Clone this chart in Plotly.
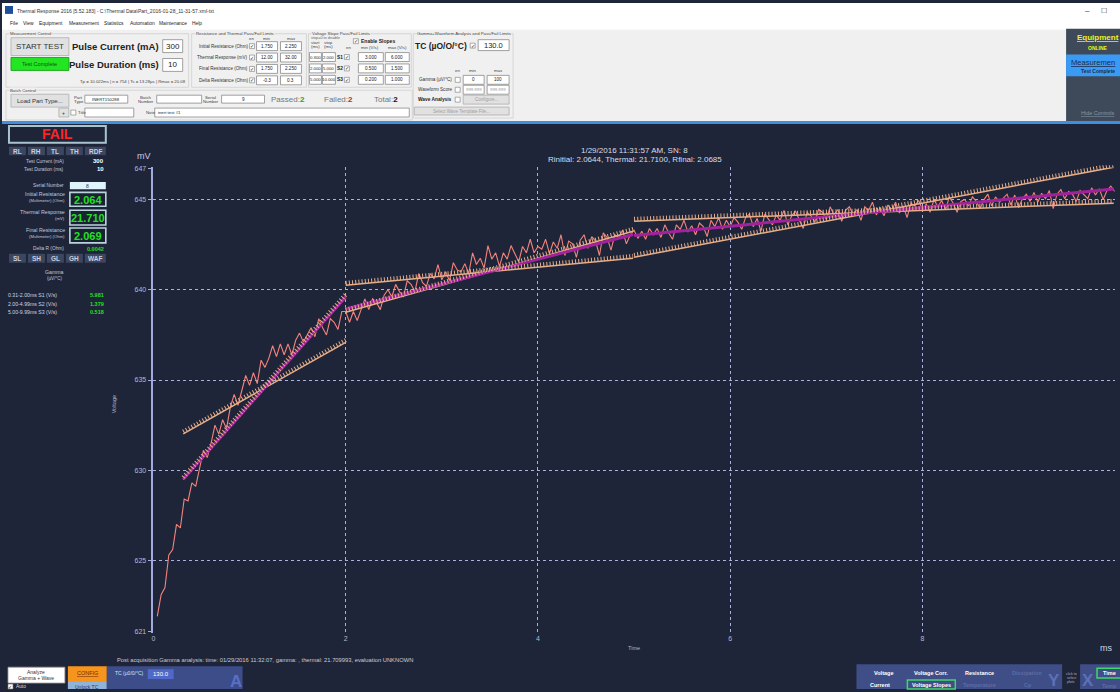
import plotly.graph_objects as go

# ---------------- DATA ----------------
# Voltage trace (mV), sampled every SAMPLE_STEP_MS starting at SAMPLE_START_MS
voltage_mv = [
    621.9, 623.1, 623.5, 625.3, 625.6, 627.0, 626.8, 628.4, 628.3, 629.3,
    629.1, 630.2, 631.1, 630.7, 631.5, 632.5, 632.0, 632.8, 632.3, 633.5,
    634.2, 633.6, 634.5, 635.25, 634.7, 635.4, 634.8, 636.1, 635.7, 636.2,
    636.9, 636.3, 637.0, 636.4, 637.0, 636.4, 637.2, 637.6, 637.1, 637.5,
    637.9, 637.4, 638.4, 637.9, 637.5, 638.4, 638.2, 637.8, 638.8, 638.8,
    638.2, 638.8, 638.3, 638.9, 639.5, 638.9, 639.5, 639.3, 638.9, 639.7,
    640.0, 639.6, 640.3, 639.9, 639.6, 640.5, 640.3, 639.9, 640.9, 640.4,
    640.2, 640.9, 640.6, 641.4, 640.55, 641.0, 640.5, 641.5, 641.1, 641.0,
    641.45, 640.9, 642.05, 641.4, 641.75, 641.2, 642.45, 641.7, 642.05, 641.3,
    642.05, 641.7, 642.45, 642.0, 641.55, 642.4, 642.05, 642.8, 642.05, 642.4,
    642.25, 642.8, 642.0, 642.65, 642.3, 643.05, 641.9, 642.7, 642.55, 641.8,
    642.75, 643.05, 642.3, 642.95, 642.7, 641.9, 643.15, 642.9, 642.2, 643.05,
    642.9, 643.3, 642.55, 643.05, 643.3, 642.85, 643.25, 642.8, 643.4, 643.05,
    643.4, 642.9, 643.6, 643.15, 642.8, 643.6, 643.35, 643.85, 643.2, 643.55,
    643.05, 643.7, 643.5, 642.95, 643.85, 643.5, 644.0, 643.35, 643.85, 643.5,
    644.0, 643.75, 643.35, 644.0, 644.2, 643.5, 643.95, 643.25, 644.2, 643.9,
    643.6, 644.15, 643.85, 644.4, 643.6, 644.1, 644.35, 643.85, 643.4, 644.3,
    644.1, 643.75, 644.45, 644.3, 643.9, 644.6, 644.15, 644.45, 643.8, 644.4,
    644.6, 644.15, 644.45, 643.85, 644.6, 644.4, 644.85, 644.15, 644.55, 644.1,
    644.7, 644.4, 644.85, 644.25, 644.65, 644.0, 644.8, 644.65, 644.95, 644.45,
    644.75, 644.3, 645.0, 644.6, 644.95, 644.45, 645.15, 644.8, 644.3, 644.9,
    645.0, 644.65, 645.15, 644.9, 644.5, 645.0, 645.3, 644.65, 645.15, 644.85,
    645.1, 645.3, 644.7, 645.25, 644.55, 645.05, 645.3, 644.9, 645.4, 644.85,
    645.35, 645.05, 645.5, 644.5, 645.3, 645.55, 645.05, 645.45, 645.3, 644.9,
    645.5, 645.3, 645.05, 645.65, 645.25, 645.6, 645.0, 645.5, 645.75, 645.45,
]
SAMPLE_START_MS = 0.04
SAMPLE_STEP_MS = 0.04
time_ms = [round(SAMPLE_START_MS + i * SAMPLE_STEP_MS, 4) for i in range(len(voltage_mv))]

# Slope segments (fit lines and pass/fail limit lines)
seg_start_ms = [0.31, 2.00, 5.00]
seg_stop_ms = [2.00, 4.99, 9.99]
seg_slope = [5.981, 1.379, 0.518]      # V/s == mV/ms
seg_mid_mv = [634.55, 641.0, 644.3]    # fit value at segment centre
slope_min = [3.0, 0.5, 0.2]
slope_max = [6.0, 1.5, 1.0]

# Axes
y_tick_vals = [621.04, 625, 630, 635, 640, 645, 646.74]
y_tick_text = ["621", "625", "630", "635", "640", "645", "647"]
y_grid_vals = [625, 630, 635, 640, 645]
x_tick_vals = [0, 2, 4, 6, 8]

# ---------------- FIGURE ----------------
W, H = 1120, 692
BG = "#1f2539"
GRID = "#a9b0e3"
FONT = "Liberation Sans"
HATCH = "#e6ae88"

X_DOM = [151.7 / W, 1114.7 / W]
Y_DOM = [1 - 635.1 / H, 1 - 165.9 / H]
HATCH_SHIFT = 2.2 / H
Y_RANGE = [621.0, 646.78]

fig = go.Figure()
fig.add_trace(go.Scatter(x=time_ms, y=voltage_mv, mode="lines",
                         line=dict(color="#f4837c", width=1.1), hoverinfo="skip"))

for i in range(len(seg_start_ms)):
    xs = [seg_start_ms[i], seg_stop_ms[i]]
    tmid = (xs[0] + xs[1]) / 2
    for s in (slope_min[i], slope_max[i]):
        ys = [seg_mid_mv[i] + s * (t - tmid) for t in xs]
        fig.add_trace(go.Scatter(x=xs, y=ys, mode="lines",
                                 line=dict(color=HATCH, width=1.5)))
        fig.add_trace(go.Scatter(x=xs, y=ys, mode="lines", xaxis="x2", yaxis="y2",
                                 line=dict(color=HATCH, width=4.4, dash="1px,2.2px")))
for i in range(len(seg_start_ms)):
    xs = [seg_start_ms[i], seg_stop_ms[i]]
    tmid = (xs[0] + xs[1]) / 2
    ys = [seg_mid_mv[i] + seg_slope[i] * (t - tmid) for t in xs]
    fig.add_trace(go.Scatter(x=xs, y=ys, mode="lines",
                             line=dict(color="#a2229e", width=3)))

shapes = []
annotations = []


def px(x):
    return x / W


def py(y):
    return 1 - y / H


def rect(x0, y0, x1, y1, fill=None, line=None, lw=1.0):
    shapes.append(dict(type="rect", xref="paper", yref="paper",
                       x0=px(x0), x1=px(x1), y0=py(y1), y1=py(y0),
                       fillcolor=fill if fill else "rgba(0,0,0,0)",
                       line=dict(color=line if line else "rgba(0,0,0,0)",
                                 width=lw if line else 0)))


def text(x, y, s, size=6, color="#222", anchor="left", bold=False,
         family=FONT, angle=0, bg=None):
    a = dict(xref="paper", yref="paper", x=px(x), y=py(y),
             text=("<b>" + s + "</b>") if bold else s, showarrow=False,
             xanchor=anchor, yanchor="middle", borderpad=0,
             font=dict(size=size, color=color, family=family), textangle=angle)
    if bg:
        a["bgcolor"] = bg
    annotations.append(a)


def check(x, y, checked=True):
    rect(x, y - 2.5, x + 5, y + 2.5, fill="#ffffff", line="#777777", lw=0.6)
    if checked:
        text(x + 2.5, y, "✓", size=5, color="#222", anchor="center")


def inbox(x0, y0, x1, y1, s="", size=5, color="#222", anchor="center"):
    rect(x0, y0, x1, y1, fill="#ffffff", line="#8a8a8a", lw=0.8)
    if s:
        if anchor == "center":
            text((x0 + x1) / 2, (y0 + y1) / 2, s, size=size, color=color, anchor="center")
        else:
            text(x0 + 2, (y0 + y1) / 2, s, size=size, color=color, anchor="left")


def button(x0, y0, x1, y1, s, size=6, color="#333"):
    rect(x0, y0, x1, y1, fill="#e1e1e1", line="#adadad", lw=0.8)
    text((x0 + x1) / 2, (y0 + y1) / 2, s, size=size, color=color, anchor="center")


def group(x0, y0, x1, y1, caption):
    rect(x0, y0, x1, y1, line="#cfcfcf", lw=0.8)
    text(x0 + 3, y0, caption, size=4.3, color="#444", bg="#f0f0f0")


# ---------- top window UI ----------
rect(0, 0, 1120, 119, fill="#f0f0f0")
rect(0, 0, 1120, 27, fill="#ffffff")
rect(3, 3, 11, 11, fill="#1f4e9c")
text(14, 8, "Thermal Response 2016 [5.52.183] - C:\\Thermal Data\\Part_2016-01-28_11-31-57.xml-txt",
     size=5, color="#333")
text(1087, 8, "–", size=8, color="#333", anchor="center")
text(1104, 8, "☐", size=7, color="#333", anchor="center")
for lbl, xx in [("File", 7), ("View", 20), ("Equipment", 36), ("Measurement", 66),
                ("Statistics", 101), ("Automation", 127), ("Maintenance", 156), ("Help", 189)]:
    text(xx, 21, lbl, size=4.9, color="#222")

# Measurement Control
group(4, 31, 187, 85, "Measurement Control")
button(9, 35, 67, 53, "START TEST", size=8)
rect(9, 55, 67, 68, fill="#22e622", line="#0b9a0b", lw=0.8)
text(38, 61.5, "Test Complete", size=5.5, color="#1a4d1a", anchor="center")
text(158, 44, "Pulse Current (mA)", size=9.5, color="#222", anchor="right", bold=True)
inbox(161, 37, 181, 50, "300", size=8)
text(158, 62, "Pulse Duration (ms)", size=9.5, color="#222", anchor="right", bold=True)
inbox(161, 56, 181, 69, "10", size=8)
text(185, 79, "Tp = 10.022ms | n = 754 | Ts = 13.28µs | Rmax = 20.08", size=4.3,
     color="#444", anchor="right")

# Resistance & thermal limits
group(190, 31, 305, 85, "Resistance and Thermal Pass/Fail Limits")
text(250, 36, "en", size=4.3, color="#444", anchor="center")
text(265, 36, "min", size=4.3, color="#444", anchor="center")
text(290, 36, "max", size=4.3, color="#444", anchor="center")
res_rows = [("Initial Resistance (Ohm)", "1.750", "2.250"),
            ("Thermal Response (mV)", "12.00", "32.00"),
            ("Final Resistance (Ohm)", "1.750", "2.250"),
            ("Delta Resistance (Ohm)", "-0.3", "0.3")]
for (lbl, mn, mx), yy in zip(res_rows, [43.5, 55, 66.5, 78]):
    text(247, yy, lbl, size=4.6, color="#333", anchor="right")
    check(248, yy)
    inbox(255, yy - 4.5, 276, yy + 4.5, mn, size=4.6)
    inbox(279, yy - 4.5, 300, yy + 4.5, mx, size=4.6)

# Voltage slope limits
group(307, 31, 410, 85, "Voltage Slope Pass/Fail Limits")
text(309, 35.5, "stop=0 to disable", size=3.8, color="#666")
text(314, 39.5, "start", size=4.3, color="#444", anchor="center")
text(314, 43.5, "(ms)", size=4.3, color="#444", anchor="center")
text(327, 39.5, "stop", size=4.3, color="#444", anchor="center")
text(327, 43.5, "(ms)", size=4.3, color="#444", anchor="center")
check(352, 38.5)
text(359, 38.5, "Enable Slopes", size=5, color="#222", bold=True)
text(347, 44.5, "en", size=4.3, color="#444", anchor="center")
text(369, 44.5, "min (V/s)", size=4.3, color="#444", anchor="center")
text(396, 44.5, "max (V/s)", size=4.3, color="#444", anchor="center")
vs_rows = [("0.300", "2.000", "S1", "3.000", "6.000"),
           ("2.000", "5.000", "S2", "0.500", "1.500"),
           ("5.000", "10.000", "S3", "0.200", "1.000")]
for (a, b, s, mn, mx), yy in zip(vs_rows, [54.5, 66, 77.5]):
    inbox(308, yy - 4.5, 320, yy + 4.5, a, size=4.3)
    inbox(321, yy - 4.5, 334, yy + 4.5, b, size=4.3)
    text(338.5, yy, s, size=4.8, color="#222", anchor="center", bold=True)
    check(343, yy)
    inbox(357, yy - 4.5, 382, yy + 4.5, mn, size=4.6)
    inbox(384, yy - 4.5, 408, yy + 4.5, mx, size=4.6)

# Gamma + waveform
group(412, 31, 512, 116, "Gamma+Waveform Analysis and Pass/Fail Limits")
text(413, 43, "TC (µO/O/°C)", size=8.5, color="#222", bold=True)
check(469, 43)
inbox(477, 37, 508, 48, "130.0", size=7.5)
text(456, 68, "en", size=4.3, color="#444", anchor="center")
text(472, 68, "min", size=4.3, color="#444", anchor="center")
text(497, 68, "max", size=4.3, color="#444", anchor="center")
text(452, 77.5, "Gamma (µV/°C)", size=4.6, color="#333", anchor="right")
check(454, 77.5, False)
inbox(462, 73, 483, 82, "0", size=4.6)
inbox(486, 73, 508, 82, "100", size=4.6)
text(452, 87.5, "Waveform Score", size=4.6, color="#333", anchor="right")
check(454, 87.5, False)
inbox(462, 83, 483, 92, "999.999", size=4.3, color="#999")
inbox(486, 83, 508, 92, "999.999", size=4.3, color="#999")
text(452, 97.5, "Wave Analysis", size=4.8, color="#222", anchor="right", bold=True)
check(454, 97.5, False)
button(462, 93, 508, 102, "Configure...", size=4.5, color="#a0a0a0")
button(413, 105, 508, 113, "Select Wave Template File...", size=4.5, color="#a0a0a0")

# Batch control
group(4, 88, 411, 118, "Batch Control")
button(9, 92, 67, 105, "Load Part Type...", size=6)
text(77, 95, "Part", size=4.3, color="#444", anchor="center")
text(77, 99.5, "Type", size=4.3, color="#444", anchor="center")
inbox(83, 93, 126, 101, "INERT150288", size=4.3)
text(144, 95, "Batch", size=4.3, color="#444", anchor="center")
text(144, 99.5, "Number", size=4.3, color="#444", anchor="center")
inbox(155, 93, 200, 101)
text(209, 95, "Serial", size=4.3, color="#444", anchor="center")
text(209, 99.5, "Number", size=4.3, color="#444", anchor="center")
inbox(220, 93, 263, 101, "9", size=4.6)
text(268, 97, "Passed:<b><span style='color:#1fa51f'>2</span></b>", size=8, color="#777")
text(322, 97, "Failed:<b><span style='color:#d42020'>2</span></b>", size=8, color="#777")
text(372, 97, "Total:<b><span style='color:#111'>2</span></b>", size=8, color="#777")
button(57, 106, 67, 115, "+", size=5)
check(69, 110.5, False)
text(75, 110.5, "Title", size=4.3, color="#444")
inbox(83, 106, 132, 115)
text(143, 110.5, "Note", size=4.3, color="#444")
inbox(153, 106, 408, 115, "inert test #1", size=4.3, anchor="left")

# top-right panel
rect(1066, 26, 1120, 119, fill="#3e4a5a")
text(1098, 35, "<u><b>Equipment</b></u>", size=8, color="#f0f020", anchor="center")
text(1098, 45.5, "ONLINE", size=5, color="#f0f020", anchor="center", bold=True)
rect(1066, 52, 1120, 74, fill="#3a9bf5")
text(1093, 60, "<u>Measuremen</u>", size=7.6, color="#1c2b4a", anchor="center")
text(1098, 69, "Test Complete", size=5, color="#1c2b4a", anchor="center", bold=True)
text(1098, 111, "<u>Hide Controls</u>", size=5.5, color="#8896a8", anchor="center")

rect(0, 119, 1120, 122, fill="#3e8fe0")

# ---------- left status panel ----------
LBL = "#c2c8d8"
rect(7, 124, 104, 141, fill=BG, line="#a9c4cf", lw=2)
text(55.5, 132.5, "FAIL", size=14, color="#ff2424", anchor="center", bold=True)
for lbl, x0, x1 in [("RL", 7, 24), ("RH", 26, 43), ("TL", 45, 62), ("TH", 64, 81), ("RDF", 83, 104)]:
    rect(x0, 145, x1, 153.5, fill="#3b4660")
    text((x0 + x1) / 2, 149.3, lbl, size=6.5, color="#c8cfe0", anchor="center", bold=True)
text(63, 159.5, "Test Current (mA)", size=4.8, color=LBL, anchor="right")
text(103, 159.5, "300", size=6, color="#ffffff", anchor="right", bold=True)
text(63, 167.5, "Test Duration (ms)", size=4.8, color=LBL, anchor="right")
text(103, 167.5, "10", size=6, color="#ffffff", anchor="right", bold=True)
text(63, 184, "Serial Number", size=4.8, color=LBL, anchor="right")
rect(68, 180.5, 104, 188, fill="#dff4fb")
text(86, 184.3, "8", size=5, color="#333", anchor="center")
vals = [("Initial Resistance", "(Multimeter) (Ohm)", "2.064", 191, 205),
        ("Thermal Response", "(mV)", "21.710", 209, 224),
        ("Final Resistance", "(Multimeter) (Ohm)", "2.069", 227, 242)]
for l1, l2, v, y0, y1 in vals:
    rect(68, y0, 104, y1, fill="#1a2232", line="#b9d4dc", lw=1.6)
    text(86, (y0 + y1) / 2 + 0.5, v, size=11, color="#22e022", anchor="center", bold=True)
    text(64, y0 + 2, l1, size=5.3, color=LBL, anchor="right")
    text(64, y0 + 8.5, l2, size=4.2, color=LBL, anchor="right")
text(63, 248, "Delta R (Ohm)", size=4.8, color=LBL, anchor="right")
text(103, 248, "0.0042", size=5.5, color="#22e022", anchor="right", bold=True)
for lbl, x0, x1 in [("SL", 7, 24), ("SH", 26, 43), ("GL", 45, 62), ("GH", 64, 81), ("WAF", 83, 104)]:
    rect(x0, 253, x1, 262, fill="#3b4660")
    text((x0 + x1) / 2, 257.5, lbl, size=6.5, color="#c8cfe0", anchor="center", bold=True)
text(53, 271, "Gamma", size=5.2, color=LBL, anchor="center")
text(53, 278, "(µV/°C)", size=4.5, color=LBL, anchor="center")
for lbl, v, yy in [("0.31-2.00ms S1 (V/s)", "5.981", 295),
                   ("2.00-4.99ms S2 (V/s)", "1.379", 303.5),
                   ("5.00-9.99ms S3 (V/s)", "0.518", 312)]:
    text(5, yy, lbl, size=5.2, color="#d0d4e0")
    text(103, yy, v, size=5.5, color="#22e022", anchor="right", bold=True)

# ---------- chart texts ----------
text(634, 148.5, "1/29/2016 11:31:57 AM, SN: 8", size=8, color="#d8dce8", anchor="center")
text(634, 157.5, "Rinitial: 2.0644, Thermal: 21.7100, Rfinal: 2.0685", size=8,
     color="#d8dce8", anchor="center")
text(134, 154, "mV", size=9, color="#c8cce0")
text(113, 405, "Voltage", size=5.5, color="#b0b5c8", anchor="center", angle=-90)
text(633, 651, "Time", size=5.5, color="#b0b5c8", anchor="center")
text(1106, 650.5, "ms", size=9, color="#d0d4e0", anchor="center")
text(114, 663, "Post acquisition Gamma analysis: time: 01/29/2016 11:32:07, gamma: , thermal: 21.709993, evaluation UNKNOWN",
     size=5.8, color="#c8ccd8")

# ---------- bottom-left controls ----------
rect(6, 670, 63, 686, fill="#ffffff", line="#999999", lw=0.8)
text(34.5, 675, "Analyze", size=5, color="#333", anchor="center")
text(34.5, 681, "Gamma + Wave", size=5, color="#333", anchor="center")
check(6, 689.5)
text(13, 689.5, "Auto", size=4.8, color="#dddddd")
rect(66, 669, 105, 685, fill="#f7941d")
text(85.5, 676, "<u>CONFIG</u>", size=5.5, color="#7a2a00", anchor="center")
rect(66, 685, 105, 692, fill="#8fb3d9")
text(85.5, 689.5, "Unlock TC", size=5, color="#2a3a6a", anchor="center")
rect(105, 669, 241, 692, fill="#3c4d8a")
text(112, 676, "TC (µ0/0/°C)", size=5, color="#dde0f0")
rect(146, 672, 172, 682, fill="#5068c8")
text(159, 677, "130.0", size=6, color="#ffffff", anchor="center")
text(234, 684, "A", size=17, color="#5a6fc4", anchor="center", bold=True)

# ---------- bottom-right plot selectors ----------
rect(856, 667, 1062, 692, fill="#3f4e86")
for lbl, xx in [("Voltage", 883), ("Voltage Corr.", 931), ("Resistance", 979)]:
    text(xx, 675.5, lbl, size=5.5, color="#ffffff", anchor="center", bold=True)
text(1027, 675.5, "Dissipation", size=5.5, color="#5d6ca6", anchor="center", bold=True)
text(880, 688, "Current", size=5.5, color="#ffffff", anchor="center", bold=True)
rect(907, 683, 955, 692, line="#3fd66a", lw=1.5)
text(931, 688, "Voltage Slopes", size=5.5, color="#ffffff", anchor="center", bold=True)
text(979, 688, "Temperature", size=5.5, color="#5d6ca6", anchor="center", bold=True)
text(1028, 688, "Cp", size=5.5, color="#5d6ca6", anchor="center", bold=True)
text(1054, 683, "Y", size=17, color="#5d70b8", anchor="center", bold=True)
for s, yy in [("click to", 677), ("select", 681), ("plots", 685)]:
    text(1071, yy, s, size=3.5, color="#aab0c8", anchor="center")
rect(1080, 667, 1120, 692, fill="#3f4e86")
text(1088, 683, "X", size=17, color="#5d70b8", anchor="center", bold=True)
rect(1097, 671, 1121, 681, line="#3fd66a", lw=1.5)
text(1109, 676, "Time", size=5.5, color="#ffffff", anchor="center", bold=True)
text(1109, 689, "Temp", size=5.5, color="#5d6ca6", anchor="center", bold=True)

fig.update_layout(
    width=W, height=H, margin=dict(l=0, r=0, t=0, b=0),
    paper_bgcolor=BG, plot_bgcolor="rgba(0,0,0,0)", showlegend=False,
    font=dict(family=FONT),
    xaxis=dict(domain=X_DOM, range=[0, 10], tickvals=x_tick_vals,
               showgrid=True, gridcolor=GRID, griddash="dot", gridwidth=1,
               zeroline=False, showline=False, ticks="",
               tickfont=dict(size=7, color="#b4b9cf")),
    yaxis=dict(domain=Y_DOM, range=Y_RANGE,
               tickvals=y_tick_vals, ticktext=y_tick_text, showgrid=False,
               showline=True, linecolor="#a3aadf", linewidth=1.5,
               ticks="outside", ticklen=4, tickcolor="#a3aadf", zeroline=False,
               tickfont=dict(size=7, color="#b4b9cf"),
               minor=dict(tickvals=y_grid_vals, showgrid=True, gridcolor=GRID,
                          griddash="dot", gridwidth=1, ticks="")),
    xaxis2=dict(domain=X_DOM, range=[0, 10], anchor="y2", visible=False,
                showgrid=False, zeroline=False),
    yaxis2=dict(domain=[Y_DOM[0] + HATCH_SHIFT, Y_DOM[1] + HATCH_SHIFT], range=Y_RANGE,
                anchor="x2", visible=False, showgrid=False, zeroline=False),
    shapes=shapes, annotations=annotations,
)

fig.write_html("out.html",
               config={"displayModeBar": False},
               post_script="document.body.style.margin='0';document.body.style.padding='0';"
                           "document.body.style.overflow='hidden';")
